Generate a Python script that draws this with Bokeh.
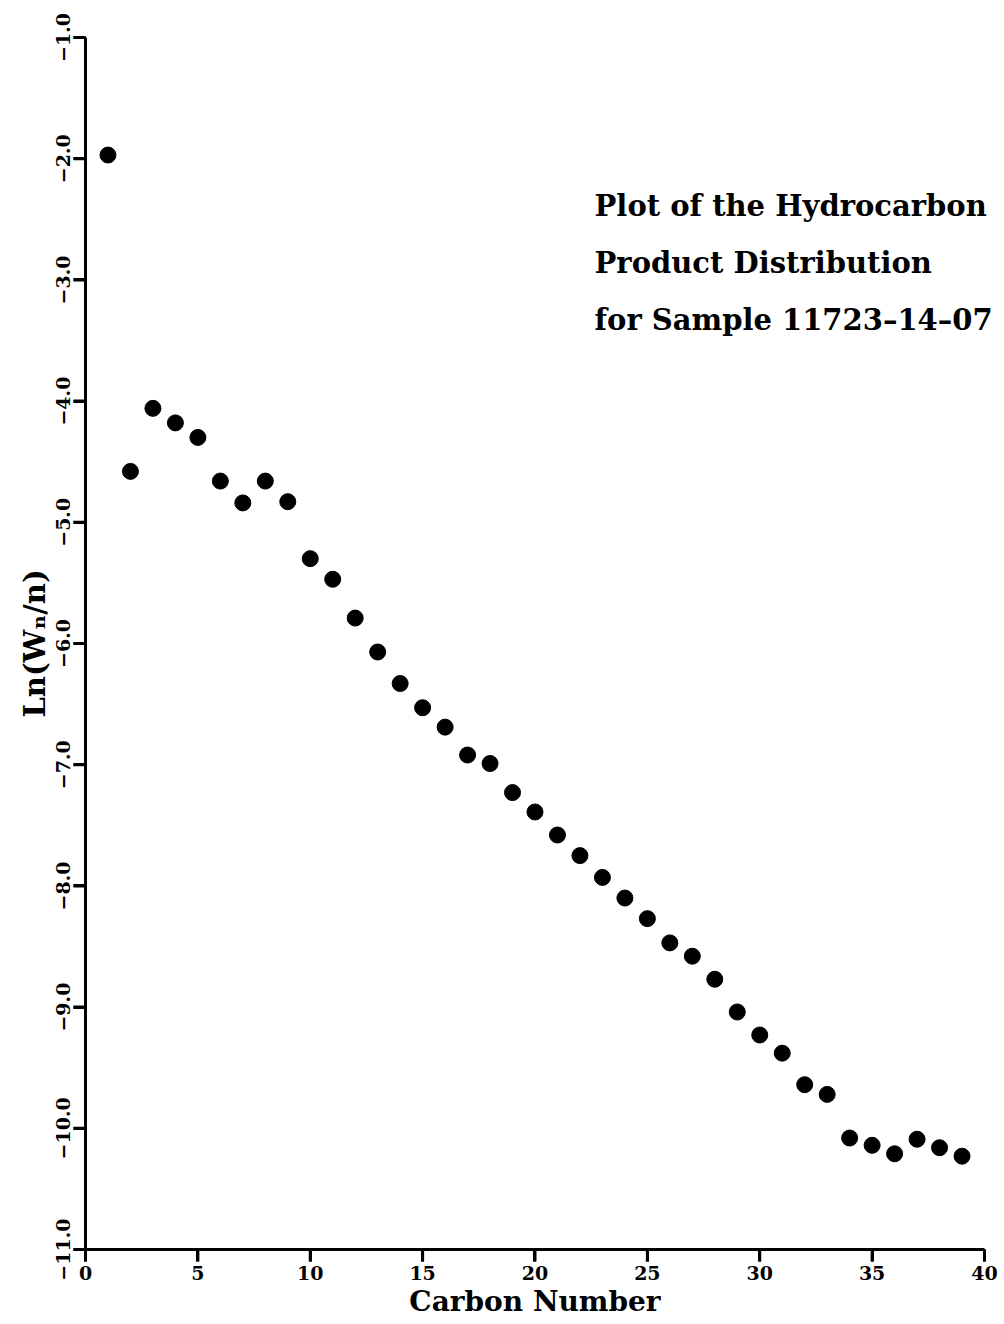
import math
from bokeh.plotting import figure
from bokeh.models import Range1d, FixedTicker, NumeralTickFormatter, Label
from bokeh.embed import file_html
from bokeh.resources import INLINE

carbon_number = list(range(1, 40))
ln_wn_over_n = [
    -1.97, -4.58, -4.06, -4.18, -4.30, -4.66, -4.84, -4.66, -4.83, -5.30,
    -5.47, -5.79, -6.07, -6.33, -6.53, -6.69, -6.92, -6.99, -7.23, -7.39,
    -7.58, -7.75, -7.93, -8.10, -8.27, -8.47, -8.58, -8.77, -9.04, -9.23,
    -9.38, -9.64, -9.72, -10.08, -10.14, -10.21, -10.09, -10.16, -10.23,
]
x_ticks = [0, 5, 10, 15, 20, 25, 30, 35, 40]
y_ticks = [-1.0, -2.0, -3.0, -4.0, -5.0, -6.0, -7.0, -8.0, -9.0, -10.0, -11.0]
title_lines = [
    "Plot of the Hydrocarbon",
    "Product Distribution",
    "for Sample 11723\u201314\u201307",
]
title_y = [-2.39, -2.86, -3.33]

FONT = "DejaVu Serif"
W, H = 1000, 1322
X0, X1 = -3.782, 40.712
Y0, Y1 = -11.602, -0.695
TICK_PX = 12

# The frame covers the whole canvas; the axes are pinned at x=0 / y=-11 and
# bounded to the data extent.
p = figure(width=W, height=H, output_backend="svg", toolbar_location=None,
           x_range=Range1d(X0, X1), y_range=Range1d(Y0, Y1),
           min_border_left=0, min_border_right=0, min_border_top=0,
           min_border_bottom=0)
p.outline_line_color = None
p.xgrid.visible = False
p.ygrid.visible = False
p.background_fill_color = "white"
p.border_fill_color = "white"

# outward tick marks, drawn from the tick lists (length converted from pixels)
dy = TICK_PX * (Y1 - Y0) / H
dx = TICK_PX * (X1 - X0) / W
xb, yb = x_ticks[0], y_ticks[-1]
p.segment(x0=x_ticks, y0=[yb] * len(x_ticks), x1=x_ticks, y1=[yb - dy] * len(x_ticks),
          line_color="black", line_width=3)
p.segment(x0=[xb] * len(y_ticks), y0=y_ticks, x1=[xb - dx] * len(y_ticks), y1=y_ticks,
          line_color="black", line_width=3)

p.scatter(carbon_number, ln_wn_over_n, size=16, color="black")

for t, yy in zip(title_lines, title_y):
    p.add_layout(Label(x=22.65, y=yy, text=t, text_font=FONT, text_font_size="29px",
                       text_font_style="bold", text_baseline="middle", text_color="black"))

for ax in (p.xaxis[0], p.yaxis[0]):
    ax.axis_line_width = 3
    ax.axis_line_color = "black"
    ax.major_tick_line_width = 3
    ax.major_tick_line_color = "black"
    ax.major_tick_in = 0
    ax.major_tick_out = TICK_PX
    ax.minor_tick_line_color = None
    ax.major_label_text_font = FONT
    ax.major_label_text_font_style = "bold"
    ax.major_label_text_font_size = "19px"
    ax.major_label_text_color = "black"
    ax.axis_label_text_font = FONT
    ax.axis_label_text_font_style = "bold"
    ax.axis_label_text_color = "black"

p.xaxis[0].fixed_location = yb
p.yaxis[0].fixed_location = xb
p.xaxis[0].bounds = (x_ticks[0], x_ticks[-1])
p.yaxis[0].bounds = (y_ticks[-1], y_ticks[0])
p.xaxis[0].ticker = FixedTicker(ticks=x_ticks)
p.xaxis[0].major_label_standoff = 4
p.yaxis[0].ticker = FixedTicker(ticks=y_ticks)
p.yaxis[0].formatter = NumeralTickFormatter(format="0.0")
p.yaxis[0].major_label_overrides = {v: "\u2212" + f"{abs(v):.1f}" for v in y_ticks}
p.yaxis[0].major_label_orientation = "vertical"
p.yaxis[0].major_label_standoff = 3
p.xaxis[0].axis_label = "Carbon Number"
p.xaxis[0].axis_label_text_font_size = "28px"
p.xaxis[0].axis_label_standoff = 2
p.yaxis[0].axis_label = "Ln(W\u2099/n)"
p.yaxis[0].axis_label_text_font_size = "29px"
p.yaxis[0].axis_label_standoff = 2

open("out.html", "w").write(file_html(p, INLINE))
